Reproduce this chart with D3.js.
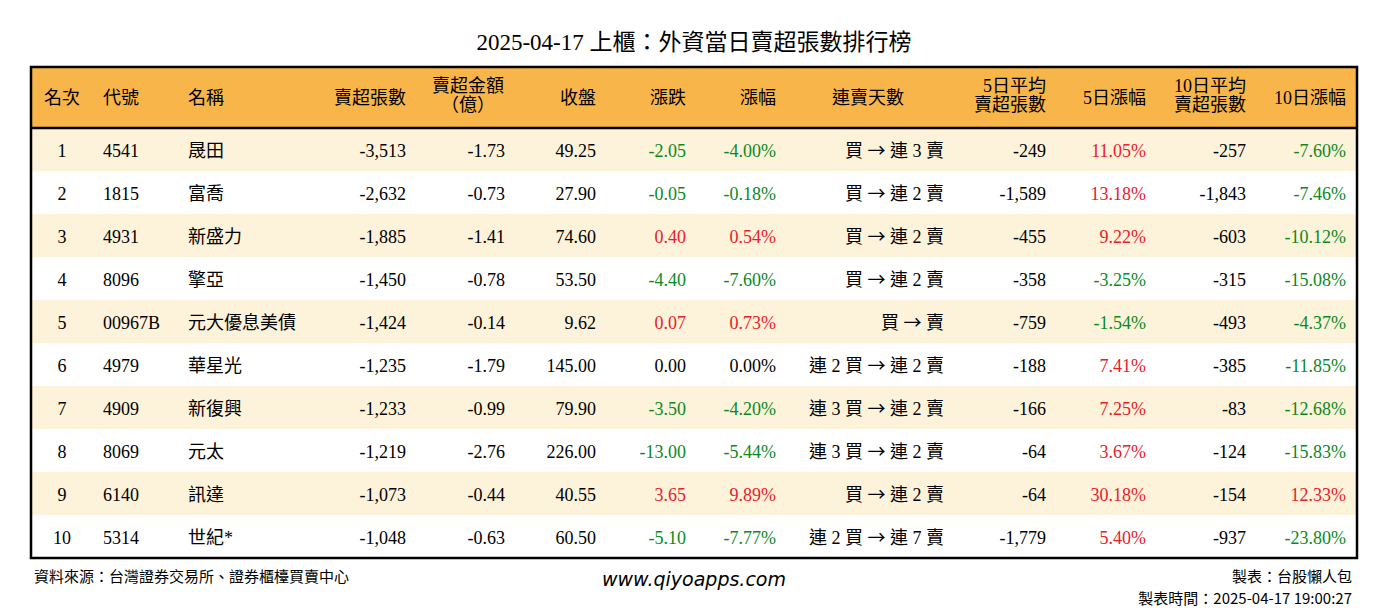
<!DOCTYPE html>
<html>
<head>
<meta charset="utf-8">
<script src="https://cdn.jsdelivr.net/npm/d3@7"></script>
<style>
body { margin: 0; background: white; }
text { font-family: "Liberation Serif", "Noto Sans CJK TC", serif; }
tspan.arr { font-family: "Noto Sans CJK TC", sans-serif; }
</style>
</head>
<body>
<script>
// table data
var ranks = [1,2,3,4,5,6,7,8,9,10];
var codes = ["4541","1815","4931","8096","00967B","4979","4909","8069","6140","5314"];
var names = ["晟田","富喬","新盛力","擎亞","元大優息美債","華星光","新復興","元太","訊達","世紀*"];
var sellLots = [-3513,-2632,-1885,-1450,-1424,-1235,-1233,-1219,-1073,-1048];
var sellAmt = [-1.73,-0.73,-1.41,-0.78,-0.14,-1.79,-0.99,-2.76,-0.44,-0.63];
var closes = [49.25,27.90,74.60,53.50,9.62,145.00,79.90,226.00,40.55,60.50];
var changes = [-2.05,-0.05,0.40,-4.40,0.07,0.00,-3.50,-13.00,3.65,-5.10];
var pct = [-4.00,-0.18,0.54,-7.60,0.73,0.00,-4.20,-5.44,9.89,-7.77];
var streakBuy = ["買","買","買","買","買","連 2 買","連 3 買","連 3 買","買","連 2 買"];
var streakSell = ["連 3 賣","連 2 賣","連 2 賣","連 2 賣","賣","連 2 賣","連 2 賣","連 2 賣","連 2 賣","連 7 賣"];
var avg5 = [-249,-1589,-455,-358,-759,-188,-166,-64,-64,-1779];
var pct5 = [11.05,13.18,9.22,-3.25,-1.54,7.41,7.25,3.67,30.18,5.40];
var avg10 = [-257,-1843,-603,-315,-493,-385,-83,-124,-154,-937];
var pct10 = [-7.60,-7.46,-10.12,-15.08,-4.37,-11.85,-12.68,-15.83,12.33,-23.80];

var W = 1388, H = 612;
var svg = d3.select("body").append("svg").attr("width", W).attr("height", H);

var x0 = 31, x1 = 1357, tableTop = 67, headH = 61, rowH = 43;
var y = d3.scaleBand().domain(d3.range(ranks.length)).range([tableTop + headH, tableTop + headH + rowH * ranks.length]);

var loc = d3.formatLocale({ decimal: ".", thousands: ",", grouping: [3], currency: ["", ""], minus: "-" });
var comma = loc.format(",");
var f2 = loc.format(".2f");
function col(v) { return v > 0 ? "#e8202a" : v < 0 ? "#0a8a1e" : "#000"; }

svg.append("text").attr("x", W / 2).attr("y", 50).attr("text-anchor", "middle")
  .attr("font-size", 23).text("2025-04-17 上櫃：外資當日賣超張數排行榜");

// header
svg.append("rect").attr("x", x0).attr("y", tableTop).attr("width", x1 - x0).attr("height", headH).attr("fill", "#f8b54a");

// rows
svg.selectAll(".row").data(ranks).enter().append("rect")
  .attr("x", x0).attr("y", function(d, i) { return y(i); })
  .attr("width", x1 - x0).attr("height", y.bandwidth())
  .attr("fill", function(d, i) { return i % 2 === 0 ? "#fdf2da" : "#fff"; });

svg.append("line").attr("x1", x0).attr("x2", x1).attr("y1", tableTop + headH).attr("y2", tableTop + headH)
  .attr("stroke", "#000").attr("stroke-width", 2.5);
svg.append("rect").attr("x", x0).attr("y", tableTop).attr("width", x1 - x0).attr("height", headH + rowH * ranks.length)
  .attr("fill", "none").attr("stroke", "#000").attr("stroke-width", 2.5);

var cols = [
  { h: ["名次"], x: 62, a: "middle", v: function(i) { return ranks[i]; } },
  { h: ["代號"], x: 103, a: "start", v: function(i) { return codes[i]; } },
  { h: ["名稱"], x: 188, a: "start", v: function(i) { return names[i]; } },
  { h: ["賣超張數"], x: 406, a: "end", v: function(i) { return comma(sellLots[i]); } },
  { h: ["賣超金額", "（億）"], x: 505, a: "end", hx: 468, v: function(i) { return f2(sellAmt[i]); } },
  { h: ["收盤"], x: 596, a: "end", v: function(i) { return f2(closes[i]); } },
  { h: ["漲跌"], x: 686, a: "end", v: function(i) { return f2(changes[i]); }, c: function(i) { return col(changes[i]); } },
  { h: ["漲幅"], x: 776, a: "end", v: function(i) { return f2(pct[i]) + "%"; }, c: function(i) { return col(pct[i]); } },
  { h: ["連賣天數"], x: 944, a: "end", hx: 868, streak: true },
  { h: ["5日平均", "賣超張數"], x: 1046, a: "end", v: function(i) { return comma(avg5[i]); } },
  { h: ["5日漲幅"], x: 1146, a: "end", v: function(i) { return f2(pct5[i]) + "%"; }, c: function(i) { return col(pct5[i]); } },
  { h: ["10日平均", "賣超張數"], x: 1246, a: "end", v: function(i) { return comma(avg10[i]); } },
  { h: ["10日漲幅"], x: 1346, a: "end", v: function(i) { return f2(pct10[i]) + "%"; }, c: function(i) { return col(pct10[i]); } }
];

cols.forEach(function(c) {
  var hx = c.hx !== undefined ? c.hx : c.x;
  var ha = c.hx !== undefined ? "middle" : c.a;
  var t = svg.append("text").attr("x", hx).attr("text-anchor", ha).attr("font-size", 18);
  if (c.h.length === 1) {
    t.attr("y", tableTop + headH / 2 + 6).text(c.h[0]);
  } else {
    c.h.forEach(function(s, k) {
      t.append("tspan").attr("x", hx).attr("y", tableTop + 25 + k * 19).text(s);
    });
  }
  var cells = svg.selectAll(null).data(ranks).enter().append("text")
    .attr("x", c.x).attr("text-anchor", c.a)
    .attr("y", function(d, i) { return y(i) + rowH / 2 + 7; })
    .attr("font-size", 18)
    .attr("fill", function(d, i) { return c.c ? c.c(i) : "#000"; });
  if (c.streak) {
    cells.each(function(d, i) {
      var s = d3.select(this);
      s.append("tspan").text(streakBuy[i] + " ");
      s.append("tspan").attr("class", "arr").text("→");
      s.append("tspan").text(" " + streakSell[i]);
    });
  } else {
    cells.text(function(d, i) { return c.v(i); });
  }
});

svg.append("text").attr("x", 34).attr("y", 582).attr("font-size", 15).text("資料來源：台灣證券交易所、證券櫃檯買賣中心");
svg.append("text").attr("x", 694).attr("y", 586).attr("text-anchor", "middle").attr("font-size", 19)
  .attr("font-style", "italic").style("font-family", "'DejaVu Sans', sans-serif").text("www.qiyoapps.com");
svg.append("text").attr("x", 1352).attr("y", 582).attr("text-anchor", "end").attr("font-size", 15).text("製表：台股懶人包");
svg.append("text").attr("x", 1352).attr("y", 604).attr("text-anchor", "end").attr("font-size", 15)
  .style("font-family", "'Noto Sans CJK TC', sans-serif").text("製表時間：2025-04-17 19:00:27");
</script>
</body>
</html>
